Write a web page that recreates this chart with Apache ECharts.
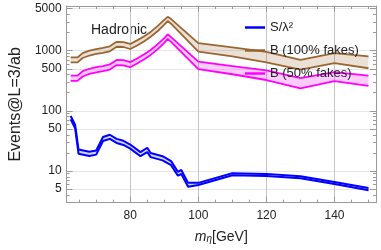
<!DOCTYPE html>
<html>
<head>
<meta charset="utf-8">
<script src="https://cdn.jsdelivr.net/npm/echarts@6/dist/echarts.min.js"></script>
<style>html,body{margin:0;padding:0;background:#fff}#c{width:381px;height:250px}</style>
</head>
<body>
<div id="c"></div>
<script>
// ---- data ----
const massBand = [62.5, 64.5, 66, 68, 70, 72, 74, 76, 78, 80, 82, 84, 86, 88, 90, 91, 92, 100, 110, 120, 130, 140, 150];
const b100Upper = [770, 770, 910, 1000, 1060, 1110, 1180, 1400, 1390, 1290, 1480, 1720, 2050, 2550, 3250, 3650, 3350, 1330, 1130, 950, 700, 910, 805];
const b100Lower = [637, 637, 755, 830, 880, 915, 975, 1160, 1150, 1065, 1220, 1420, 1700, 2100, 2700, 3100, 2800, 962, 800, 640, 485, 618, 510];
const b50Upper = [384, 384, 455, 500, 530, 555, 590, 700, 695, 645, 740, 860, 1025, 1270, 1620, 1870, 1680, 657, 555, 470, 348, 438, 385];
const b50Lower = [314, 314, 372, 410, 435, 455, 485, 575, 570, 530, 610, 710, 850, 1050, 1350, 1564, 1400, 491, 405, 325, 237, 312, 259];
const massSig = [62.5, 63.8, 64.8, 68, 70, 72, 74, 76, 78, 80, 83, 85, 86, 89.5, 92, 94, 95, 97, 100, 110, 120, 130, 140, 150];
const sigUpper = [82, 59, 22.8, 20.9, 21.9, 36.8, 40, 34.2, 31.7, 27.5, 20.6, 24.3, 19.9, 17.6, 14.6, 9.7, 10.4, 6.35, 6.35, 9.2, 8.95, 8.2, 6.55, 5.2];
const sigLower = [72, 51.4, 19.4, 17.8, 18.7, 31.5, 34.2, 29.2, 27.1, 23.5, 17.6, 20.6, 17, 15, 12.5, 8.35, 8.9, 5.45, 5.85, 8.5, 8.25, 7.6, 6.05, 4.8];
const yTickLabels = [5, 10, 50, 100, 500, 1000, 5000];
const yMinorTicks = [3, 4, 6, 7, 8, 9, 20, 30, 40, 60, 70, 80, 90, 200, 300, 400, 600, 700, 800, 900, 2000, 3000, 4000];
const xMajorTicks = [80, 100, 120, 140];
const xMinorTicks = [65, 70, 75, 85, 90, 95, 105, 110, 115, 125, 130, 135, 145, 150];
const legendNames = ['S/λ²', 'B (100% fakes)', 'B (50% fakes)'];

// ---- helpers ----
const L = Math.log10;
const X_MIN = 61.3, X_MAX = 152.2, Y_MIN = L(2.97), Y_MAX = L(5520);
const FONT = '"Liberation Sans", Arial, sans-serif';
const FRAME = '#9a9a9a';

function linePts(xs, ys) { return xs.map((m, i) => [m, L(ys[i])]); }

function band(xs, up, lo, fill) {
  const data = xs.map((m, i) => [m, L(lo[i]), L(up[i])]);
  return {
    type: 'custom', silent: true, z: 1, data: data,
    encode: { x: 0, y: [1, 2] },
    clip: true,
    renderItem: function (params, api) {
      if (params.dataIndex !== 0) return null;
      const top = data.map(d => api.coord([d[0], d[2]]));
      const bot = data.map(d => api.coord([d[0], d[1]])).reverse();
      return { type: 'polygon', shape: { points: top.concat(bot) }, style: { fill: fill, stroke: null } };
    }
  };
}
function line(name, xs, ys, color, w) {
  return { type: 'line', name: name, data: linePts(xs, ys), symbol: 'none', silent: true,
    color: color, itemStyle: { color: color }, lineStyle: { color: color, width: w }, z: 3 };
}

const chart = echarts.init(document.getElementById('c'), null, { renderer: 'canvas' });

const yMajorLog = yTickLabels.map(L);
const yMinorLog = yMinorTicks.map(L);

function yAx(pos, ticks, len, labels, split, line) {
  return {
    type: 'value', position: pos, min: Y_MIN, max: Y_MAX,
    axisLine: { show: line, lineStyle: { color: FRAME, width: 1 } },
    axisTick: { show: true, inside: true, length: len, customValues: ticks, lineStyle: { color: FRAME } },
    axisLabel: labels ? { show: true, customValues: yMajorLog, margin: 5, color: '#222', fontSize: 12, fontFamily: FONT,
      formatter: v => String(Math.round(Math.pow(10, v))) } : { show: false },
    splitLine: { show: split, lineStyle: { color: '#e6e6e6', width: 1 } }
  };
}
function xAx(pos, ticks, len, labels, split, line) {
  return {
    type: 'value', position: pos, min: X_MIN, max: X_MAX,
    axisLine: { show: line, onZero: false, lineStyle: { color: FRAME, width: 1 } },
    axisTick: { show: true, inside: true, length: len, customValues: ticks, lineStyle: { color: FRAME } },
    axisLabel: labels ? { show: true, customValues: xMajorTicks, margin: 7, color: '#222', fontSize: 12, fontFamily: FONT } : { show: false },
    splitLine: { show: split, lineStyle: { color: '#c4c4c4', width: 1 } }
  };
}

const xAxes = [xAx('bottom', xMajorTicks, 6, true, true, true), xAx('bottom', xMinorTicks, 3, false, false, false),
               xAx('top', xMajorTicks, 6, false, false, true), xAx('top', xMinorTicks, 3, false, false, false)];
xAxes[0].name = '{i|m}{s|η}{n|[GeV]}';
xAxes[0].nameLocation = 'middle';
xAxes[0].nameGap = 26;
xAxes[0].nameTextStyle = { rich: {
  i: { fontSize: 14, fontStyle: 'italic', fontFamily: FONT, color: '#222' },
  s: { fontSize: 10, fontStyle: 'italic', fontFamily: FONT, color: '#222', verticalAlign: 'bottom', padding: [6, 0, 0, 0] },
  n: { fontSize: 14, fontFamily: FONT, color: '#222' } } };

const yAxes = [yAx('left', yMajorLog, 6, true, true, true), yAx('left', yMinorLog, 3, false, false, false),
               yAx('right', yMajorLog, 6, false, false, true), yAx('right', yMinorLog, 3, false, false, false)];
yAxes[0].name = 'Events@L=3/ab';
yAxes[0].nameLocation = 'middle';
yAxes[0].nameGap = 40;
yAxes[0].nameTextStyle = { fontSize: 16, fontFamily: FONT, color: '#222' };

const series = [
  band(massBand, b100Upper, b100Lower, 'rgba(153,102,51,0.2)'),
  band(massBand, b50Upper, b50Lower, 'rgba(255,0,255,0.2)'),
  band(massSig, sigUpper, sigLower, 'rgba(110,110,255,0.3)'),
  line(legendNames[1], massBand, b100Upper, '#996633', 1.8),
  line('b100lo', massBand, b100Lower, '#996633', 1.8),
  line(legendNames[2], massBand, b50Upper, '#ff00ff', 1.8),
  line('b50lo', massBand, b50Lower, '#ff00ff', 1.8),
  line(legendNames[0], massSig, sigUpper, '#0000ff', 2),
  line('siglo', massSig, sigLower, '#0000ff', 2)
];

chart.setOption({
  animation: false,
  backgroundColor: '#fff',
  grid: { left: 58, right: 5, top: 6, bottom: 47.3, containLabel: false },
  xAxis: xAxes,
  yAxis: yAxes,
  legend: {
    data: legendNames, orient: 'vertical', left: 240, top: 16, itemGap: 10,
    icon: 'rect', itemWidth: 20, itemHeight: 2.5, selectedMode: false,
    textStyle: { fontSize: 13, fontFamily: FONT, color: '#222' }
  },
  graphic: [{ type: 'text', left: 91, top: 23, silent: true,
    style: { text: 'Hadronic', font: '14px ' + FONT, fill: '#222' } }],
  series: series
});
</script>
</body>
</html>
